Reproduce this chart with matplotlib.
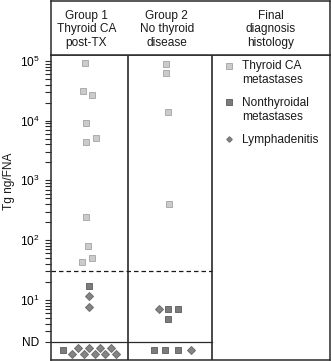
import matplotlib.pyplot as plt
from matplotlib.ticker import FixedLocator, NullFormatter

plt.rcParams['font.family'] = 'Liberation Sans'
plt.rcParams['mathtext.fontset'] = 'custom'
plt.rcParams['mathtext.rm'] = 'Liberation Sans'
plt.rcParams['mathtext.it'] = 'Liberation Sans:italic'

W, H = 331, 361

# Tg ng/FNA, None = not detectable (ND)
g1_thyroid = [92000, 31000, 27000, 9200, 5100, 4400, 240, 80, 51, 43]
g1_nonthyroid = [17, None]
g1_lymph = [11.7, 7.7, None, None, None, None, None, None, None, None, None]
g2_thyroid = [90000, 63000, 14000, 400]
g2_nonthyroid = [7.0, 7.0, 4.8, None, None, None]
g2_lymph = [7.0, None]

headers = [["Group 1", "Thyroid CA", "post-TX"],
           ["Group 2", "No thyroid", "disease"],
           ["Final", "diagnosis", "histology"]]
legend_labels = [["Thyroid CA", "metastases"],
                 ["Nonthyroidal", "metastases"],
                 ["Lymphadenitis"]]
cutoff = 30
nd_line = 2

# layout: x jitter (px from group centre) and where ND points sit in the ND band
c1, c2 = 38.3, 116.7
g1_thyroid_dx = [-4, -6, 3, -3, 7, -3, -3, -1, 3, -7]
g1_nonthyroid_dx = [0, -26]
g1_nonthyroid_nd = [1.47]
g1_lymph_dx = [0, 0, -17, -11, -5, 0, 6, 11, 16, 22, 27]
g1_lymph_nd = [1.23, 1.54, 1.23, 1.54, 1.23, 1.54, 1.23, 1.54, 1.23]
g2_thyroid_dx = [-2, -2, 0, 1]
g2_nonthyroid_dx = [0, 10, 0, -14, -3, 10]
g2_nonthyroid_nd = [1.45, 1.45, 1.45]
g2_lymph_dx = [-9, 23]
g2_lymph_nd = [1.45]


def place(vals, nd_y=()):
    it = iter(nd_y)
    return [next(it) if v is None else v for v in vals]


def xs(c, dx):
    return [c + d for d in dx]


fig = plt.figure(figsize=(W / 100, H / 100), dpi=100)
top_px, head_px, bot_px, left_px, right_px = 1, 54.7, 359.5, 51, 330.3
ax = fig.add_axes([left_px / W, (H - bot_px) / H, (right_px - left_px) / W, (bot_px - head_px) / H])
hx = fig.add_axes([left_px / W, (H - head_px) / H, (right_px - left_px) / W, (head_px - top_px) / H])

light = dict(marker='s', ms=4.8, mfc='#cbcbcb', mec='#acacac', mew=0.7, ls='none')
dark = dict(marker='s', ms=4.8, mfc='#7b7b7b', mec='#686868', mew=0.7, ls='none')
dia = dict(marker='D', ms=3.6, mfc='#848484', mec='#6e6e6e', mew=0.7, ls='none')

ax.plot(xs(c1, g1_thyroid_dx), place(g1_thyroid), **light)
ax.plot(xs(c1, g1_nonthyroid_dx), place(g1_nonthyroid, g1_nonthyroid_nd), **dark)
ax.plot(xs(c1, g1_lymph_dx), place(g1_lymph, g1_lymph_nd), **dia)
ax.plot(xs(c2, g2_thyroid_dx), place(g2_thyroid), **light)
ax.plot(xs(c2, g2_nonthyroid_dx), place(g2_nonthyroid, g2_nonthyroid_nd), **dark)
ax.plot(xs(c2, g2_lymph_dx), place(g2_lymph, g2_lymph_nd), **dia)

ax.set_yscale('log')
ax.set_xlim(0, right_px - left_px)
ax.set_ylim(1, 10 ** 5.105)
div1, div2 = 77.3, 160.7
for a in (ax, hx):
    a.axvline(div1, color='#2a2a2a', lw=1.2)
    a.axvline(div2, color='#2a2a2a', lw=1.2)
    for s in a.spines.values():
        s.set_color('#2a2a2a')
        s.set_linewidth(1.1)
frac = div2 / (right_px - left_px)
ax.axhline(nd_line, xmin=0, xmax=frac, color='#2a2a2a', lw=0.9)
ax.axhline(cutoff, xmin=0, xmax=frac, color='#1a1a1a', lw=0.9, ls=(0, (3.6, 2.4)))

ax.yaxis.set_major_locator(FixedLocator([2, 10, 100, 1000, 1e4, 1e5]))
ax.set_yticklabels(['ND', '$10^1$', '$10^2$', '$10^3$', '$10^4$', '$10^5$'])
minor = [k * 10 ** n for n in range(5) for k in range(2, 10) if not (n == 0 and k == 2)]
ax.yaxis.set_minor_locator(FixedLocator(minor))
ax.yaxis.set_minor_formatter(NullFormatter())
ax.tick_params(axis='y', which='both', length=4.3, width=0.8, color='#2a2a2a',
               labelsize=8.6, pad=4)
ax.set_xticks([])
hx.set_xticks([])
hx.set_yticks([])
hx.set_xlim(0, 1)
hx.set_ylim(0, 1)


def ftext(x, y, s, **kw):
    fig.text(x / W, 1 - y / H, s, fontsize=8.6, color='#1a1a1a', **kw)


head_x = [86.5, 166.7, 270.8]
for hxpos, lines in zip(head_x, headers):
    for i, line in enumerate(lines):
        ftext(hxpos, 19 + 13.4 * i, line, ha='center', va='baseline')

leg_marks = [light, dark, dia]
leg_y = [65.5, 102.3, 139.3]
leg_base = [69.2, 106.5, 143.4]
for st, my, by, lines in zip(leg_marks, leg_y, leg_base, legend_labels):
    kw = dict(st)
    kw['ms'] = kw['ms'] * 0.8
    ax.plot([229 / W], [1 - my / H], transform=fig.transFigure, clip_on=False, **kw)
    for i, line in enumerate(lines):
        ftext(241.7, by + 13.6 * i, line, ha='left', va='baseline')

ftext(9, 181, "Tg ng/FNA", rotation=90, ha='center', va='center')

fig.savefig('out.png', dpi=100)
